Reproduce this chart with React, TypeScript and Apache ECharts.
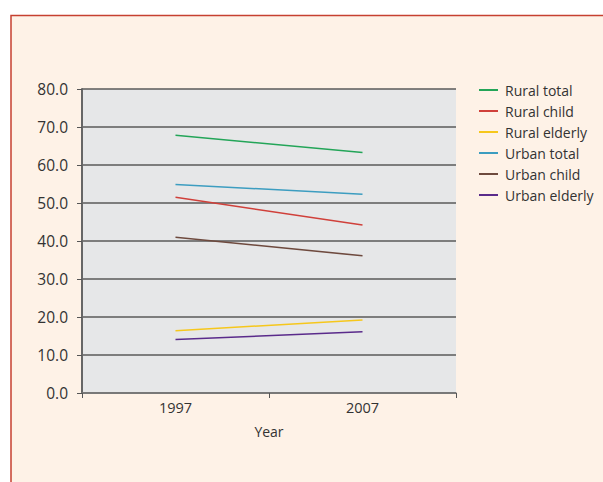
import React, { useEffect, useRef } from "react";
import * as echarts from "echarts";

const years = ["1997", "2007"];
const seriesNames = ["Rural total", "Rural child", "Rural elderly", "Urban total", "Urban child", "Urban elderly"];
const ruralTotal = [67.8, 63.3];
const ruralChild = [51.5, 44.2];
const ruralElderly = [16.4, 19.2];
const urbanTotal = [54.9, 52.3];
const urbanChild = [41.0, 36.1];
const urbanElderly = [14.1, 16.1];
const colors = ["#23a558", "#d0403a", "#f6c71c", "#3c9dc0", "#6e4a3e", "#5a2b8b"];

const FONT = "Open Sans";

export default function App() {
  const ref = useRef<HTMLDivElement>(null);
  useEffect(() => {
    if (!ref.current) return;
    const chart = echarts.init(ref.current, undefined, { renderer: "svg" });
    const data = [ruralTotal, ruralChild, ruralElderly, urbanTotal, urbanChild, urbanElderly];
    chart.setOption({
      animation: false,
      backgroundColor: "#ffffff",
      textStyle: { fontFamily: FONT },
      graphic: [
        {
          type: "rect",
          z: -10,
          silent: true,
          shape: { x: 11, y: 15.5, width: 640, height: 520 },
          style: { fill: "#fef2e7", stroke: "#c64030", lineWidth: 1.5 },
        },
      ],
      grid: {
        left: 82,
        top: 89,
        width: 374,
        height: 304,
        show: true,
        backgroundColor: "#e6e7e8",
        borderWidth: 0,
        z: 0,
      },
      legend: {
        orient: "vertical",
        left: 479,
        top: 83,
        padding: 0,
        itemWidth: 19,
        itemHeight: 2,
        itemGap: 7,
        icon: "rect",
        data: seriesNames,
        textStyle: {
          fontFamily: FONT,
          fontSize: 14,
          color: "#333333",
          lineHeight: 14,
          padding: [0, 0, 0, 2],
        },
      },
      xAxis: {
        type: "category",
        data: years,
        boundaryGap: true,
        name: "Year",
        nameLocation: "middle",
        nameGap: 31,
        nameTextStyle: { fontFamily: FONT, fontSize: 14, color: "#333333" },
        axisLine: { show: true, lineStyle: { color: "#777777", width: 1.5 } },
        axisTick: { show: true, length: 5, lineStyle: { color: "#555555" } },
        axisLabel: { margin: 7, fontFamily: FONT, fontSize: 14.5, color: "#333333" },
        splitLine: { show: false },
      },
      yAxis: {
        type: "value",
        min: 0,
        max: 80,
        interval: 10,
        axisLine: { show: true, lineStyle: { color: "#666666", width: 2 } },
        axisTick: { show: true, length: 5, lineStyle: { color: "#555555" } },
        axisLabel: {
          margin: 14,
          fontFamily: FONT,
          fontSize: 15.5,
          color: "#333333",
          formatter: (v: number) => v.toFixed(1),
        },
        splitLine: { show: true, lineStyle: { color: "#5a5a5a", width: 1.5 } },
      },
      series: seriesNames.map((name, i) => ({
        name,
        type: "line",
        data: data[i],
        symbol: "none",
        color: colors[i],
        lineStyle: { width: 1.5, color: colors[i] },
        z: 3,
      })),
    });
    return () => chart.dispose();
  }, []);
  return (
    <div
      ref={ref}
      style={{ position: "absolute", left: 0, top: 0, width: 603, height: 482 }}
    />
  );
}
